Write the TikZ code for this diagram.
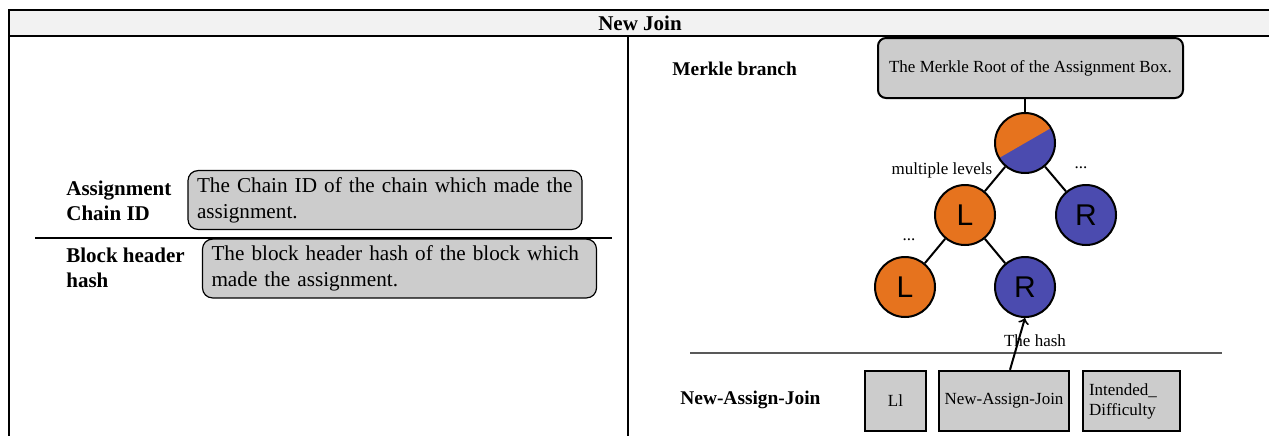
\documentclass[tikz,border=0pt]{standalone}
\usepackage{fontspec}
\setmainfont{Liberation Serif}
\setsansfont{Liberation Sans}
\usepackage{tikz}

\definecolor{boxgray}{RGB}{204,204,204}
\definecolor{mkorange}{RGB}{230,115,30}
\definecolor{mkblue}{RGB}{75,75,175}

\tikzset{
  desc/.style={draw,line width=0.6pt,rounded corners=5pt,fill=boxgray,text width=188pt,inner xsep=4.5pt,
    align=left,minimum height=29pt,font=\fontsize{10.6}{13}\selectfont},
  lbl/.style={font=\bfseries\fontsize{10.5}{12.5}\selectfont,align=left,inner sep=0pt,anchor=west},
  hnode/.style={circle,draw,line width=1pt,minimum size=30pt,inner sep=0pt,font=\sffamily\fontsize{15}{15}\selectfont},
  field/.style={draw,line width=1.2pt,fill=boxgray,minimum height=30pt,inner sep=1pt,font=\fontsize{8.5}{10}\selectfont},
  small/.style={inner sep=1pt,font=\fontsize{8.5}{10}\selectfont}
}

\begin{document}
\begin{tikzpicture}[x=0.5pt,y=-0.5pt]
\path[use as bounding box,clip] (0,0) rectangle (1269,435);

\draw[line width=0.75pt,fill=gray!10] (9,10) rectangle (1280,36);
\node[font=\bfseries\fontsize{10.5}{12.5}\selectfont] (title) at (640,23) {New Join};
\draw[line width=0.75pt] (9,36) -- (9,440);
\draw[line width=0.75pt] (628,36) -- (628,440);

% left side
\node[lbl] (acid) at (66,201) {Assignment\\Chain ID};
\node[desc] (acidbox) at (385,200) {The Chain ID of the chain which made the assignment.};
\draw[line width=0.6pt] (35,238) -- (612,238);
\node[lbl] (bhh) at (66,268) {Block header\\hash};
\node[desc] (bhhbox) at (399.5,268.5) {The block header hash of the block which made the assignment.};

% right side
\node[lbl,font=\bfseries\fontsize{9.7}{12}\selectfont] (mb) at (672,69) {Merkle branch};
\node[draw,line width=1pt,rounded corners=4pt,fill=boxgray,minimum width=152.5pt,minimum height=30pt,
  font=\fontsize{8.5}{10}\selectfont] (mroot) at (1030.5,68) {The Merkle Root of the Assignment Box.};

\node[hnode,fill=mkblue,path picture={
  \fill[mkorange] ([shift={(210:25pt)}]path picture bounding box.center)
    -- ([shift={(30:25pt)}]path picture bounding box.center)
    -- ([shift={(120:25pt)}]path picture bounding box.center) -- cycle;}] (top) at (1025,143) {};
\node[hnode,fill=mkorange] (l1) at (965,215) {L};
\node[hnode,fill=mkblue] (r1) at (1086,215) {R};
\node[hnode,fill=mkorange] (l2) at (905,287) {L};
\node[hnode,fill=mkblue] (r2) at (1025,287) {R};

\draw[line width=1pt] (top |- mroot.south) -- (top);
\draw[line width=1pt] (top) -- (l1);
\draw[line width=1pt] (top) -- (r1);
\draw[line width=1pt] (l1) -- (l2);
\draw[line width=1pt] (l1) -- (r2);

\node[small] (ml) at (942,170) {multiple levels};
\node[small] (dotsr) at (1081,168) {...};
\node[small] (dotsl) at (909,240) {...};

\draw[line width=0.75pt,gray!70!black] (690,353) -- (1222,353);

\node[lbl,font=\bfseries\fontsize{9.7}{12}\selectfont] (najl) at (680,400) {New-Assign-Join};
\node[field,minimum width=30.5pt] (ll) at (895.5,401) {Ll};
\node[field,minimum width=65pt] (naj) at (1004,401) {New-Assign-Join};
\node[field,minimum width=48.5pt,text width=42.5pt,inner xsep=3pt,align=left] (diff) at (1131.5,401) {Intended\_\\Difficulty};

\draw[->,line width=1pt] ([xshift=3pt]naj.north) -- (r2.south);
\node[small] (hash) at (1035,341) {The hash};
\end{tikzpicture}
\end{document}
